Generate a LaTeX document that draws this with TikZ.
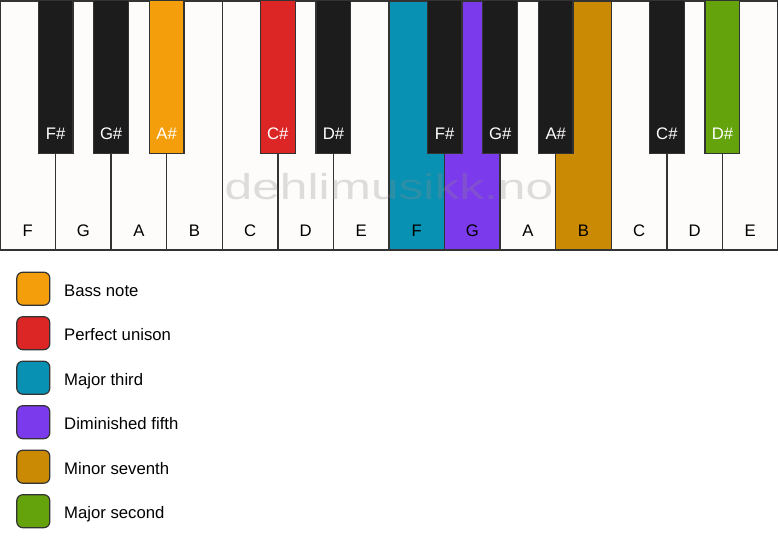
\documentclass[tikz,border=0pt]{standalone}
\usepackage{fontspec}
\setmainfont{Liberation Sans}
\usepackage{xcolor}
\usepackage{tikz}
\usetikzlibrary{shapes,positioning}

\definecolor{keyline}{HTML}{333333}
\definecolor{ivory}{HTML}{FDFCFA}
\definecolor{keyblack}{HTML}{1C1C1C}
\definecolor{bassnote}{HTML}{F59E0B}
\definecolor{unison}{HTML}{DC2626}
\definecolor{majthird}{HTML}{0891B2}
\definecolor{dimfifth}{HTML}{7C3AED}
\definecolor{minseventh}{HTML}{CA8A04}
\definecolor{majsecond}{HTML}{65A30D}

\begin{document}
\begin{tikzpicture}[x=1pt, y=-1pt,
    whitekey/.style={rectangle, draw=keyline, line width=1.5pt, fill=ivory, minimum width=55.57pt, minimum height=249pt, anchor=north, inner sep=0pt},
    blackkey/.style={rectangle, draw=keyline, line width=1.2pt, fill=keyblack, minimum width=34.7pt, minimum height=153pt, anchor=north, inner sep=0pt},
    wlabel/.style={anchor=base, inner sep=0pt, font=\fontsize{16.7}{20}\selectfont, text=black},
    blabel/.style={anchor=base, inner sep=0pt, font=\fontsize{16.7}{20}\selectfont, text=white},
    swatch/.style={rectangle, draw=keyline, line width=1.2pt, rounded corners=6pt, minimum width=33pt, minimum height=33pt, inner sep=0pt},
    legendtext/.style={anchor=base west, inner sep=0pt, font=\fontsize{16.7}{20}\selectfont}
]
\useasboundingbox (0,0) rectangle (778,550);

% White keys
\node[whitekey] (wF1) at (27.79, 0) {};
\node[whitekey] (wG1) at (83.36, 0) {};
\node[whitekey] (wA1) at (138.93, 0) {};
\node[whitekey] (wB1) at (194.50, 0) {};
\node[whitekey] (wC1) at (250.07, 0) {};
\node[whitekey] (wD1) at (305.64, 0) {};
\node[whitekey] (wE1) at (361.21, 0) {};
\node[whitekey, fill=majthird] (wF2) at (416.79, 0) {};
\node[whitekey, fill=dimfifth] (wG2) at (472.36, 0) {};
\node[whitekey] (wA2) at (527.93, 0) {};
\node[whitekey, fill=minseventh] (wB2) at (583.50, 0) {};
\node[whitekey] (wC2) at (639.07, 0) {};
\node[whitekey] (wD2) at (694.64, 0) {};
\node[whitekey] (wE2) at (750.21, 0) {};

% White key names
\node[wlabel] (lF1) at (27.79, 236) {F};
\node[wlabel] (lG1) at (83.36, 236) {G};
\node[wlabel] (lA1) at (138.93, 236) {A};
\node[wlabel] (lB1) at (194.50, 236) {B};
\node[wlabel] (lC1) at (250.07, 236) {C};
\node[wlabel] (lD1) at (305.64, 236) {D};
\node[wlabel] (lE1) at (361.21, 236) {E};
\node[wlabel] (lF2) at (416.79, 236) {F};
\node[wlabel] (lG2) at (472.36, 236) {G};
\node[wlabel] (lA2) at (527.93, 236) {A};
\node[wlabel] (lB2) at (583.50, 236) {B};
\node[wlabel] (lC2) at (639.07, 236) {C};
\node[wlabel] (lD2) at (694.64, 236) {D};
\node[wlabel] (lE2) at (750.21, 236) {E};

% Watermark
\node[inner sep=0pt, anchor=base, font=\fontsize{36}{40}\selectfont, text=black!45, opacity=0.28, xscale=1.38] (mark) at (389, 199) {dehlimusikk.no};

% Black keys
\node[blackkey] (bFs1) at (55.57, 0) {};
\node[blackkey] (bGs1) at (111.14, 0) {};
\node[blackkey, fill=bassnote] (bAs1) at (166.71, 0) {};
\node[blackkey, fill=unison] (bCs1) at (277.86, 0) {};
\node[blackkey] (bDs1) at (333.43, 0) {};
\node[blackkey] (bFs2) at (444.57, 0) {};
\node[blackkey] (bGs2) at (500.14, 0) {};
\node[blackkey] (bAs2) at (555.71, 0) {};
\node[blackkey] (bCs2) at (666.86, 0) {};
\node[blackkey, fill=majsecond] (bDs2) at (722.43, 0) {};

% Black key names
\node[blabel] (lFs1) at (55.57, 139) {F\#};
\node[blabel] (lGs1) at (111.14, 139) {G\#};
\node[blabel] (lAs1) at (166.71, 139) {A\#};
\node[blabel] (lCs1) at (277.86, 139) {C\#};
\node[blabel] (lDs1) at (333.43, 139) {D\#};
\node[blabel] (lFs2) at (444.57, 139) {F\#};
\node[blabel] (lGs2) at (500.14, 139) {G\#};
\node[blabel] (lAs2) at (555.71, 139) {A\#};
\node[blabel] (lCs2) at (666.86, 139) {C\#};
\node[blabel] (lDs2) at (722.43, 139) {D\#};

% Legend
\node[swatch, fill=bassnote] (sBass) at (33.3, 288.7) {};
\node[swatch, fill=unison] (sUnison) at (33.3, 333.2) {};
\node[swatch, fill=majthird] (sThird) at (33.3, 377.7) {};
\node[swatch, fill=dimfifth] (sFifth) at (33.3, 422.2) {};
\node[swatch, fill=minseventh] (sSeventh) at (33.3, 466.7) {};
\node[swatch, fill=majsecond] (sSecond) at (33.3, 511.2) {};

\node[legendtext] (tBass) at (64, 296) {Bass note};
\node[legendtext] (tUnison) at (64, 340.5) {Perfect unison};
\node[legendtext] (tThird) at (64, 385) {Major third};
\node[legendtext] (tFifth) at (64, 429.5) {Diminished fifth};
\node[legendtext] (tSeventh) at (64, 474) {Minor seventh};
\node[legendtext] (tSecond) at (64, 518.5) {Major second};

\end{tikzpicture}
\end{document}
